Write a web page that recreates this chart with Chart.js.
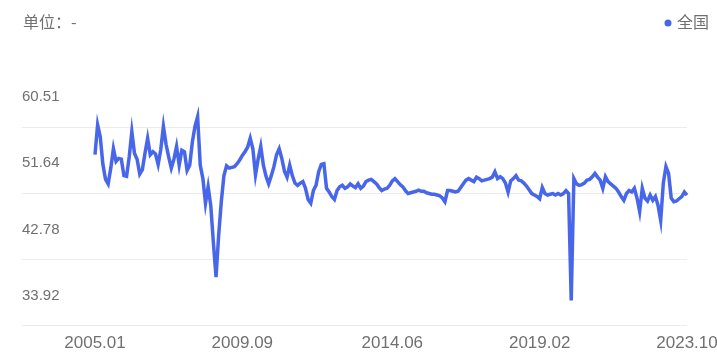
<!DOCTYPE html>
<html>
<head>
<meta charset="utf-8">
<script src="https://cdn.jsdelivr.net/npm/chart.js@4/dist/chart.umd.min.js"></script>
<style>
  html, body { margin: 0; padding: 0; background: #fff; }
  #wrap { width: 717px; height: 364px; position: relative; }
</style>
</head>
<body>
<div id="wrap"><canvas id="c"></canvas></div>
<script>
// 月份 2005.01 - 2023.10
const months = [];
for (let y = 2005; y <= 2023; y++) {
    for (let m = 1; m <= 12; m++) {
        if (y === 2023 && m > 10) break;
        months.push(y + '.' + String(m).padStart(2, '0'));
    }
}

const seriesName = '全国';
const unitText = '单位：-';

// 读图估值
const values = [
    56.8, 60.8, 59.2, 55.5, 53.5, 52.9, 55.0, 57.6, 55.9, 56.3,
    56.2, 54.0, 53.9, 56.5, 59.9, 57.0, 56.2, 54.2, 54.8, 57.0,
    59.0, 56.8, 57.2, 56.9, 55.5, 57.5, 60.6, 58.2, 56.5, 55.0,
    56.2, 57.9, 55.4, 57.4, 57.2, 54.7, 55.4, 58.5, 60.6, 61.9,
    55.4, 53.6, 50.3, 52.5, 50.0, 45.0, 40.4, 46.0, 50.5, 54.0,
    55.3, 55.0, 55.1, 55.2, 55.6, 56.1, 56.7, 57.2, 57.8, 59.0,
    57.6, 54.1, 56.2, 57.9, 55.4, 53.9, 52.9, 54.0, 55.2, 56.8,
    57.6, 56.3, 54.6, 53.8, 55.4, 54.0, 53.0, 52.7, 53.0, 53.2,
    52.3, 50.8, 50.3, 52.0, 52.7, 54.5, 55.5, 55.6, 52.3, 51.8,
    51.2, 50.8, 52.0, 52.5, 52.7, 52.3, 52.5, 52.9, 52.6, 52.4,
    52.9, 52.3, 52.6, 53.2, 53.4, 53.5, 53.2, 52.9, 52.4, 52.0,
    52.2, 52.3, 52.7, 53.3, 53.6, 53.2, 52.8, 52.5, 52.0, 51.6,
    51.7, 51.8, 51.9, 52.05, 51.9, 51.9, 51.7, 51.6, 51.5, 51.5,
    51.4, 51.3, 51.0, 50.5, 52.0, 52.0, 51.9, 51.8, 51.9, 52.4,
    52.9, 53.4, 53.6, 53.4, 53.2, 53.8, 53.6, 53.3, 53.4, 53.5,
    53.6, 53.8, 54.5, 53.6, 53.85, 53.6, 53.0, 51.8, 53.3, 53.6,
    54.0, 53.4, 53.3, 53.0, 52.6, 52.1, 51.6, 51.4, 51.2, 50.9,
    52.4, 51.6, 51.4, 51.5, 51.6, 51.4, 51.6, 51.4, 51.6, 52.0,
    51.6, 37.3, 53.6, 52.9, 52.7, 52.8, 53.0, 53.4, 53.5, 53.85,
    54.3, 53.8, 53.4, 52.3, 53.85, 53.2, 52.9, 52.6, 52.3, 51.8,
    51.2, 50.7, 51.6, 52.0, 51.8, 52.3, 51.0, 49.2, 52.3, 51.0,
    50.6, 51.4, 50.7, 51.2, 50.0, 48.0, 53.0, 55.2, 54.3, 51.0,
    50.5, 50.6, 50.9, 51.2, 51.8, 51.4
];

const yTicks = [33.92, 42.78, 51.64, 60.51];
const xTickLabels = ['2005.01', '2009.09', '2014.06', '2019.02', '2023.10'];

const lineColor = '#4766ea';
const textColor = '#707070';
const gridColor = '#ececec';
const numFont = '"Liberation Sans", Arial, sans-serif';
const cjkFont = '"Noto Sans CJK SC", sans-serif';

// 顶部的单位和图例
const headerPlugin = {
    id: 'header',
    afterDraw(chart) {
        const ctx = chart.ctx;
        ctx.save();
        ctx.font = '16px ' + cjkFont;
        ctx.fillStyle = textColor;
        ctx.textBaseline = 'middle';
        ctx.textAlign = 'left';
        ctx.fillText(unitText, 23, 22);
        ctx.fillText(seriesName, 677, 22);
        ctx.fillStyle = lineColor;
        ctx.beginPath();
        ctx.arc(668, 23, 3.5, 0, Math.PI * 2);
        ctx.fill();
        ctx.restore();
    }
};

new Chart(document.getElementById('c').getContext('2d'), {
    type: 'line',
    data: {
        labels: months,
        datasets: [{
            label: seriesName,
            data: values,
            borderColor: lineColor,
            backgroundColor: lineColor,
            borderWidth: 3.5,
            pointRadius: 0,
            tension: 0,
            fill: false,
            clip: false
        }]
    },
    options: {
        responsive: true,
        maintainAspectRatio: false,
        animation: false,
        layout: { padding: { top: 127, left: 22, right: 0, bottom: 2 } },
        plugins: {
            legend: { display: false },
            tooltip: { enabled: false }
        },
        scales: {
            x: {
                type: 'category',
                offset: false,
                grid: { display: false, drawTicks: false },
                border: { display: false },
                afterBuildTicks: (scale) => {
                    scale.ticks = xTickLabels.map(l => ({ value: months.indexOf(l) }));
                },
                afterFit: (scale) => { scale.paddingRight = 30; },
                ticks: {
                    autoSkip: false,
                    maxRotation: 0,
                    minRotation: 0,
                    padding: 8,
                    color: textColor,
                    font: { family: numFont, size: 17 }
                }
            },
            y: {
                min: yTicks[0],
                max: yTicks[yTicks.length - 1],
                afterBuildTicks: (scale) => {
                    scale.ticks = yTicks.map(v => ({ value: v }));
                },
                afterFit: (scale) => { scale.width = 73; },
                grid: {
                    color: gridColor,
                    tickColor: gridColor,
                    drawTicks: true,
                    tickLength: 73
                },
                border: { display: false },
                ticks: {
                    crossAlign: 'far',
                    labelOffset: -30,
                    padding: 0,
                    color: textColor,
                    font: { family: numFont, size: 15 },
                    callback: (v) => v.toFixed(2)
                }
            }
        }
    },
    plugins: [headerPlugin]
});
</script>
</body>
</html>
